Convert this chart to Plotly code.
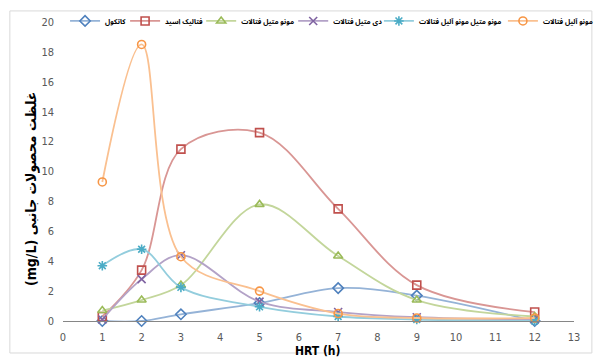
import plotly.graph_objects as go

# Hydraulic retention time (h)
hrt = [1, 2, 3, 5, 7, 9, 12]

# By-product concentrations (mg/L)
catechol = [0.0, 0.0, 0.45, 1.2, 2.2, 1.7, 0.0]
phthalic_acid = [0.3, 3.4, 11.5, 12.6, 7.5, 2.4, 0.6]
mono_methyl_phthalate = [0.7, 1.4, 2.4, 7.8, 4.35, 1.4, 0.3]
dimethyl_phthalate = [0.1, 2.8, 4.4, 1.3, 0.6, 0.25, 0.1]
mono_methyl_mono_allyl_phthalate = [3.7, 4.8, 2.25, 0.95, 0.3, 0.1, 0.0]
mono_allyl_phthalate = [9.3, 18.5, 4.3, 2.0, 0.5, 0.2, 0.2]

names = [
    "کاتکول",
    "فتالیک اسید",
    "مونو متیل فتالات",
    "دی متیل فتالات",
    "مونو متیل مونو آلیل فتالات",
    "مونو آلیل فتالات",
]
series = [
    catechol,
    phthalic_acid,
    mono_methyl_phthalate,
    dimethyl_phthalate,
    mono_methyl_mono_allyl_phthalate,
    mono_allyl_phthalate,
]
marker_colors = ["#4F81BD", "#C0504D", "#9BBB59", "#8064A2", "#4BACC6", "#F79646"]
line_colors = ["#95B3D7", "#D99694", "#C3D69B", "#B3A2C7", "#93CDDD", "#FAC090"]
symbols = ["diamond-open", "square-open", "triangle-up-open", "x-thin-open",
           "asterisk-open", "circle-open"]

# one single-entry legend per series, laid out in a row across the top
legend_x = [0.004, 0.1215, 0.2704, 0.4505, 0.6182, 0.8609]
legend_ids = ["legend"] + [f"legend{i}" for i in range(2, 7)]

fig = go.Figure()
for name, ys, mc, lc, sym, lid in zip(names, series, marker_colors, line_colors,
                                      symbols, legend_ids):
    fig.add_trace(go.Scatter(
        x=hrt, y=ys, name=name, mode="lines+markers", legend=lid,
        line=dict(color=lc, width=1.8, shape="spline", smoothing=1.0),
        marker=dict(symbol=sym, size=8, color=mc, line=dict(color=mc, width=1.6)),
        cliponaxis=False,
    ))

legend_font = dict(family="Noto Sans Arabic UI, Noto Sans Arabic, DejaVu Sans Condensed, DejaVu Sans",
                   size=7, color="#000000", weight="bold")
legends = {}
for lid, lx in zip(legend_ids, legend_x):
    legends[lid] = dict(
        orientation="h", x=lx, xanchor="left", y=1.052, yanchor="top",
        font=legend_font, itemwidth=30, bgcolor="rgba(0,0,0,0)",
    )

tick_font = dict(family="Liberation Sans Narrow, DejaVu Sans Condensed, Arial",
                 size=11, color="#595959")

fig.update_layout(
    width=598, height=359,
    margin=dict(l=63, r=24, t=22, b=38, autoexpand=False),
    paper_bgcolor="white", plot_bgcolor="white",
    showlegend=True,
    xaxis=dict(
        range=[0, 13], dtick=1, tick0=0, showgrid=False, zeroline=False,
        showline=True, linecolor="#868686", linewidth=1, ticks="",
        tickfont=tick_font, ticklabelstandoff=6,
    ),
    yaxis=dict(
        range=[0, 20], dtick=2, tick0=0, showgrid=False, zeroline=False,
        showline=False, ticks="", tickfont=tick_font, ticklabelstandoff=8,
    ),
    shapes=[dict(
        type="rect", xref="paper", yref="paper",
        x0=-0.104, x1=1.035, y0=-0.107, y1=1.037,
        line=dict(color="#D9D9D9", width=1), fillcolor="rgba(0,0,0,0)", layer="below",
    )],
    annotations=[
        dict(text="(mg/L) غلظت محصولات جانبی", xref="paper", yref="paper",
             x=-0.082, y=0.44, textangle=-90, showarrow=False,
             font=dict(family="DejaVu Sans Condensed, DejaVu Sans", size=14,
                       color="#000000", weight="bold")),
        dict(text="HRT (h)", xref="paper", yref="paper", x=0.499, y=-0.10,
             yanchor="middle", showarrow=False,
             font=dict(family="Liberation Sans Narrow, DejaVu Sans Condensed, Arial",
                       size=12, color="#000000", weight="bold")),
    ],
    **legends,
)

fig.write_html("out.html")
